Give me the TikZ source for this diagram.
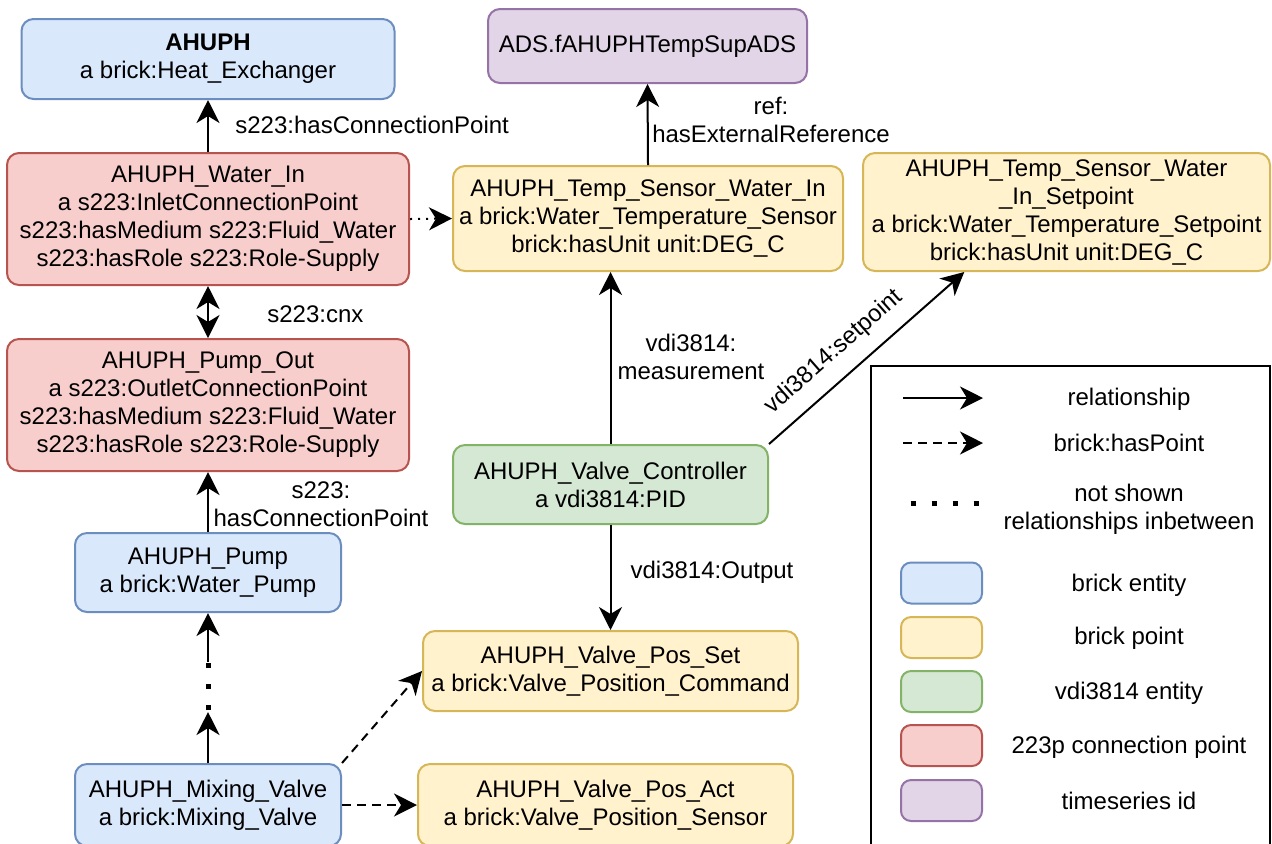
\documentclass[tikz,border=0pt]{standalone}
\usepackage{fontspec}
\setmainfont{Liberation Sans}
\usetikzlibrary{arrows.meta,calc}

\definecolor{entfill}{HTML}{DAE8FC}\definecolor{entline}{HTML}{6C8EBF}
\definecolor{ptfill}{HTML}{FFF2CC}\definecolor{ptline}{HTML}{D6B656}
\definecolor{vdifill}{HTML}{D5E8D4}\definecolor{vdiline}{HTML}{82B366}
\definecolor{cpfill}{HTML}{F8CECC}\definecolor{cpline}{HTML}{B85450}
\definecolor{tsfill}{HTML}{E1D5E7}\definecolor{tsline}{HTML}{9673A6}

\begin{document}
\begin{tikzpicture}[x=0.5pt,y=-0.5pt,
  font=\fontsize{12pt}{14pt}\selectfont,
  box/.style={draw, rounded corners=6pt, line width=1pt, align=center, inner sep=2pt},
  entity/.style={box, fill=entfill, draw=entline},
  point/.style={box, fill=ptfill, draw=ptline},
  vdi/.style={box, fill=vdifill, draw=vdiline},
  cpoint/.style={box, fill=cpfill, draw=cpline},
  tsid/.style={box, fill=tsfill, draw=tsline},
  tip/.tip={Stealth[length=11.5pt,width=11.5pt,inset=3.5pt]},
  rel/.style={line width=1pt, -tip},
  biRel/.style={line width=1pt, tip-tip},
  haspt/.style={rel, dash pattern=on 4.5pt off 3pt},
  thindots/.style={line width=1pt, dash pattern=on 1pt off 3pt},
  bigdots/.style={line width=2.5pt, dash pattern=on 2.5pt off 8pt},
  lbl/.style={inner sep=1pt, align=center},
  swatch/.style={draw, rounded corners=5pt, line width=1pt, minimum width=40.5pt, minimum height=20.5pt},
]
\useasboundingbox (0,0) rectangle (1272,843);

% left column: heat exchanger, connection points, pump, valve
\node[entity, minimum width=186.5pt, minimum height=40pt] (ahuph) at (208,59)
  {\textbf{AHUPH}\\a brick:Heat\_Exchanger};
\node[cpoint, minimum width=201pt, minimum height=66pt] (waterin) at (208,219)
  {AHUPH\_Water\_In\\a s223:InletConnectionPoint\\s223:hasMedium s223:Fluid\_Water\\s223:hasRole s223:Role-Supply};
\node[cpoint, minimum width=201pt, minimum height=66pt] (pumpout) at (208,405)
  {AHUPH\_Pump\_Out\\a s223:OutletConnectionPoint\\s223:hasMedium s223:Fluid\_Water\\s223:hasRole s223:Role-Supply};
\node[entity, minimum width=133pt, minimum height=39.5pt] (pump) at (208,572.5)
  {AHUPH\_Pump\\a brick:Water\_Pump};
\node[entity, minimum width=133pt, minimum height=41pt] (mixv) at (208,805)
  {AHUPH\_Mixing\_Valve\\a brick:Mixing\_Valve};

% middle column: timeseries, sensor, controller, valve points
\node[tsid, minimum width=159.5pt, minimum height=37pt] (ads) at (647.5,46)
  {ADS.fAHUPHTempSupADS};
\node[point, minimum width=195pt, minimum height=52.5pt] (tsens) at (648,218.5)
  {AHUPH\_Temp\_Sensor\_Water\_In\\a brick:Water\_Temperature\_Sensor\\brick:hasUnit unit:DEG\_C};
\node[vdi, minimum width=157.5pt, minimum height=39.5pt] (ctrl) at (610.5,484.5)
  {AHUPH\_Valve\_Controller\\a vdi3814:PID};
\node[point, minimum width=187.5pt, minimum height=40pt] (vpset) at (610.5,671)
  {AHUPH\_Valve\_Pos\_Set\\a brick:Valve\_Position\_Command};
\node[point, minimum width=187.5pt, minimum height=41pt] (vpact) at (605.5,805)
  {AHUPH\_Valve\_Pos\_Act\\a brick:Valve\_Position\_Sensor};

% right: setpoint
\node[point, minimum width=203.5pt, minimum height=59pt] (tset) at (1066.5,212)
  {AHUPH\_Temp\_Sensor\_Water\\\_In\_Setpoint\\a brick:Water\_Temperature\_Setpoint\\brick:hasUnit unit:DEG\_C};

% connectors
\draw[rel] (waterin.north) -- (ahuph.south);
\node[lbl, anchor=west] (l1) at (233,125) {s223:hasConnectionPoint};
\draw[biRel] (waterin.south) -- (pumpout.north);
\node[lbl, anchor=west] (l2) at (265,314) {s223:cnx};
\draw[rel] (pump.north) -- (pumpout.south);
\node[lbl] (l3) at (321,504) {s223:\\hasConnectionPoint};

\coordinate (m1) at (208,712);
\coordinate (m2) at (208,710);
\coordinate (m3) at (208,662);
\draw[rel] (mixv.north) -- (m1);
\draw[bigdots] (m2) -- (m3);
\draw[rel] (m3) -- (pump.south);

\draw[haspt] (mixv.north east) -- (vpset.west);
\draw[haspt] (mixv.east) -- (vpact.west);

\draw[thindots, -tip] (waterin.east) -- (tsens.west);

\draw[rel] (tsens.north) -- (ads.south);
\node[lbl] (l4) at (771,120) {ref:\\hasExternalReference};

\draw[rel] (ctrl.north) -- (ctrl.north |- tsens.south);
\node[lbl] (l5) at (691,357) {vdi3814:\\measurement};

\coordinate (spt) at ($(tset.south west)!0.25!(tset.south east)$);
\draw[rel] (ctrl.north east) -- node[lbl, pos=0.42, sloped, above=6pt] (l6) {vdi3814:setpoint} (spt);

\draw[rel] (ctrl.south) -- (vpset.north);
\node[lbl] (l7) at (712,572) {vdi3814:Output};

% legend
\node[draw, line width=1pt, minimum width=199.5pt, minimum height=250pt, anchor=north west] (legend) at (870,365) {};
\coordinate (a1) at (903,398); \coordinate (a2) at (983,398);
\draw[rel] (a1) -- (a2);
\node[lbl] (t1) at (1129,399) {relationship};
\coordinate (b1) at (903,443); \coordinate (b2) at (983,443);
\draw[haspt] (b1) -- (b2);
\node[lbl] (t2) at (1129,443) {brick:hasPoint};
\coordinate (c1) at (910.5,503); \coordinate (c2) at (981,503);
\draw[bigdots] (c1) -- (c2);
\node[lbl] (t3) at (1129,509) {not shown\\relationships inbetween};

\node[swatch, fill=entfill, draw=entline] (s1) at (941.5,583) {};
\node[lbl] (u1) at (1129,585) {brick entity};
\node[swatch, fill=ptfill, draw=ptline] (s2) at (941.5,637.5) {};
\node[lbl] (u2) at (1129,638) {brick point};
\node[swatch, fill=vdifill, draw=vdiline] (s3) at (941.5,691.5) {};
\node[lbl] (u3) at (1129,693) {vdi3814 entity};
\node[swatch, fill=cpfill, draw=cpline] (s4) at (941.5,745.5) {};
\node[lbl] (u4) at (1129,747) {223p connection point};
\node[swatch, fill=tsfill, draw=tsline] (s5) at (941.5,800.5) {};
\node[lbl] (u5) at (1129,801) {timeseries id};
\end{tikzpicture}
\end{document}
